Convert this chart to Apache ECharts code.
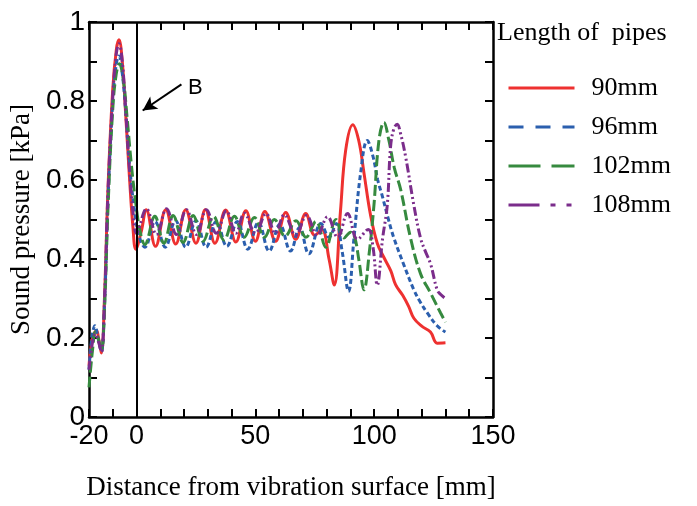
<!DOCTYPE html>
<html><head><meta charset="utf-8">
<script src="https://cdn.jsdelivr.net/npm/echarts@6/dist/echarts.min.js"></script>
<style>html,body{margin:0;padding:0;background:#fff}#c{width:697px;height:506px}</style>
</head><body><div id="c"></div>
<script>
const seriesNames = ['90mm', '96mm', '102mm', '108mm'];
const xTickLabels = [-20, 0, 50, 100, 150];
const yTickLabels = [0, 0.2, 0.4, 0.6, 0.8, 1];

const pipe90 = [[-20,0.13],[-18.5,0.2],[-16.8,0.219],[-16,0.2],[-14.8,0.162],[-13.5,0.3],[-12,0.58],[-10,0.83],[-8.5,0.93],[-7.4,0.955],[-6,0.9],[-4.5,0.76],[-3,0.61],[-1.5,0.48],[-0.3,0.425],[2,0.47],[4.1,0.525],[8,0.432],[12.3,0.525],[16.5,0.438],[20.7,0.525],[25,0.44],[29,0.525],[33,0.44],[37.5,0.524],[41.8,0.443],[46,0.522],[50,0.445],[54,0.52],[58.5,0.445],[62.8,0.518],[67,0.45],[71.2,0.515],[75,0.46],[78,0.475],[81,0.40],[83.2,0.334],[85.8,0.52],[88,0.675],[91,0.74],[93.5,0.70],[95.7,0.618],[98.5,0.51],[101.3,0.44],[104,0.405],[107,0.37],[109,0.335],[112,0.308],[114.5,0.28],[116.7,0.25],[120,0.23],[123.7,0.215],[126.5,0.187],[130,0.188]];
const pipe96 = [[-20,0.12],[-18.8,0.2],[-17.5,0.231],[-16.2,0.2],[-14.8,0.165],[-13.5,0.28],[-12,0.55],[-10,0.8],[-8.5,0.895],[-7.4,0.914],[-6,0.87],[-4.5,0.77],[-2.8,0.63],[-1,0.53],[1,0.46],[3.5,0.43],[7.8,0.495],[12.1,0.43],[16.4,0.497],[20.7,0.43],[25,0.497],[29.3,0.43],[33.6,0.495],[38,0.432],[42.4,0.495],[46.8,0.425],[51.3,0.493],[55.8,0.42],[60.3,0.488],[64.8,0.42],[68.6,0.48],[72.5,0.413],[77.6,0.49],[81,0.455],[84,0.49],[86.5,0.42],[89.2,0.318],[91.5,0.453],[94.3,0.618],[97.1,0.70],[99.5,0.66],[101.5,0.60],[103.4,0.56],[106,0.50],[108.3,0.453],[112.5,0.385],[116.7,0.322],[119.5,0.29],[122.3,0.264],[126.5,0.231],[130,0.215]];
const pipe102 = [[-20,0.075],[-18.5,0.17],[-17.3,0.215],[-16.2,0.2],[-14.8,0.17],[-13.5,0.27],[-12,0.53],[-10,0.78],[-8.5,0.87],[-7.2,0.894],[-5.5,0.85],[-4,0.76],[-2.2,0.64],[-0.5,0.55],[1.5,0.47],[3.5,0.437],[7.7,0.508],[11.5,0.44],[15.4,0.51],[19.6,0.442],[23.8,0.51],[28,0.445],[32.4,0.508],[36.8,0.448],[41.2,0.508],[45.3,0.455],[49.6,0.505],[53.8,0.455],[58,0.50],[62.5,0.458],[67.1,0.497],[71.3,0.455],[75.5,0.495],[79.7,0.43],[83.9,0.50],[87.3,0.453],[90.1,0.468],[91.8,0.455],[93.6,0.396],[95.7,0.322],[98,0.42],[99.9,0.536],[102,0.70],[104.1,0.746],[106.2,0.70],[108.5,0.63],[111.1,0.577],[115.3,0.453],[119.5,0.363],[123.7,0.314],[127.9,0.264],[130,0.24]];
const pipe108 = [[-20,0.12],[-18.5,0.19],[-17.3,0.21],[-16,0.19],[-14.8,0.165],[-13.5,0.29],[-12,0.57],[-10,0.81],[-8.5,0.92],[-7.4,0.945],[-6,0.9],[-4.5,0.77],[-3,0.63],[-1.5,0.52],[0,0.465],[4.2,0.527],[8.4,0.462],[12.6,0.527],[16.8,0.462],[21,0.525],[25.2,0.462],[29.4,0.525],[33.6,0.465],[37.8,0.522],[41.8,0.465],[45.4,0.516],[50,0.465],[54.5,0.515],[58.4,0.465],[62.2,0.512],[67,0.46],[71.5,0.51],[76,0.46],[80.4,0.507],[84.6,0.455],[88.8,0.515],[93,0.45],[97.5,0.475],[99.5,0.43],[101.3,0.334],[103.5,0.45],[105.5,0.536],[106.9,0.684],[108.3,0.73],[109.7,0.741],[111,0.72],[113.2,0.66],[116.7,0.536],[119.5,0.453],[121.5,0.42],[123.7,0.388],[126.5,0.322],[128,0.31],[130,0.30]];

const seriesData = [pipe90, pipe96, pipe102, pipe108];
const colors = ['#ee3130', '#2b5fae', '#368a3f', '#7b2d8b'];
const dashes = ['solid', [5, 3], [11, 4], [9, 3, 2, 3, 2, 3]];
const legendDashes = ['solid', [15, 12], [32, 11], [31, 11, 5, 11, 5, 11]];

const serif = '"Liberation Serif","Times New Roman",serif';
const sans = '"Liberation Sans",Arial,sans-serif';

const axisLine = {show: true, onZero: false, lineStyle: {color: '#000', width: 2.5}};
const axisTick = {show: true, inside: true, length: 8, lineStyle: {color: '#000', width: 2}};

const chart = echarts.init(document.getElementById('c'), null, {renderer: 'canvas'});
chart.setOption({
  animation: false,
  backgroundColor: '#fff',
  title: {text: 'Length of  pipes', left: 497, top: 20, padding: 0,
    textStyle: {fontFamily: serif, fontSize: 26, fontWeight: 'normal', color: '#000'}},
  grid: {left: 87, right: 204, top: 22, bottom: 79, containLabel: false},
  xAxis: [
    {type: 'value', min: -20, max: 150, interval: 10, position: 'bottom',
      axisLine, axisTick, splitLine: {show: false},
      axisLabel: {formatter: v => xTickLabels.includes(Math.round(v)) ? String(Math.round(v)) : '',
        fontFamily: sans, fontSize: 27, color: '#000', margin: 6},
      name: 'Distance from vibration surface [mm]', nameLocation: 'middle', nameGap: 57,
      nameTextStyle: {fontFamily: serif, fontSize: 27, color: '#000'}},
    {type: 'value', min: -20, max: 150, interval: 10, position: 'top',
      axisLine, axisTick, splitLine: {show: false}, axisLabel: {show: false}}
  ],
  yAxis: [
    {type: 'value', min: 0, max: 1, interval: 0.1, position: 'left',
      axisLine, axisTick, splitLine: {show: false},
      axisLabel: {formatter: v => {
          const r = Math.round(v * 10) / 10;
          if (!yTickLabels.includes(r)) return '';
          return (r === 0 || r === 1) ? String(r) : r.toFixed(1);
        }, fontFamily: sans, fontSize: 28, color: '#000', margin: 4},
      name: 'Sound pressure [kPa]', nameLocation: 'middle', nameGap: 54,
      nameTextStyle: {fontFamily: serif, fontSize: 27, color: '#000'}},
    {type: 'value', min: 0, max: 1, interval: 0.1, position: 'right',
      axisLine, axisTick, splitLine: {show: false}, axisLabel: {show: false}}
  ],
  legend: {orient: 'vertical', left: 502, top: 70, itemWidth: 66, itemHeight: 14, itemGap: 13,
    itemStyle: {opacity: 0, borderWidth: 0},
    textStyle: {fontFamily: serif, fontSize: 26, color: '#000', padding: [0, 0, 0, 12]},
    data: seriesNames.map((n, i) => ({name: n,
      itemStyle: {opacity: 0, borderWidth: 0},
      lineStyle: {color: colors[i], width: 3, type: legendDashes[i], opacity: 1}}))},
  graphic: [
    {type: 'text', left: 188, top: 77, style: {text: 'B', font: '22px "Liberation Sans", Arial', fill: '#000'}}
  ],
  series: seriesData.map((d, i) => ({
    name: seriesNames[i], type: 'line', data: d, smooth: 0.4, symbol: 'none',
    xAxisIndex: 0, yAxisIndex: 0,
    lineStyle: {color: colors[i], width: 3, type: dashes[i]},
    itemStyle: {color: colors[i]},
    markLine: i === 0 ? {
      silent: true, symbol: ['none', 'none'], label: {show: false},
      lineStyle: {color: '#000', width: 2, type: 'solid'},
      data: [
        {xAxis: 0},
        [{coord: [18.9, 0.842], symbol: 'none'}, {coord: [2.6, 0.776], symbol: 'arrow', symbolSize: [11, 14]}]
      ]
    } : undefined
  }))
});
</script></body></html>
